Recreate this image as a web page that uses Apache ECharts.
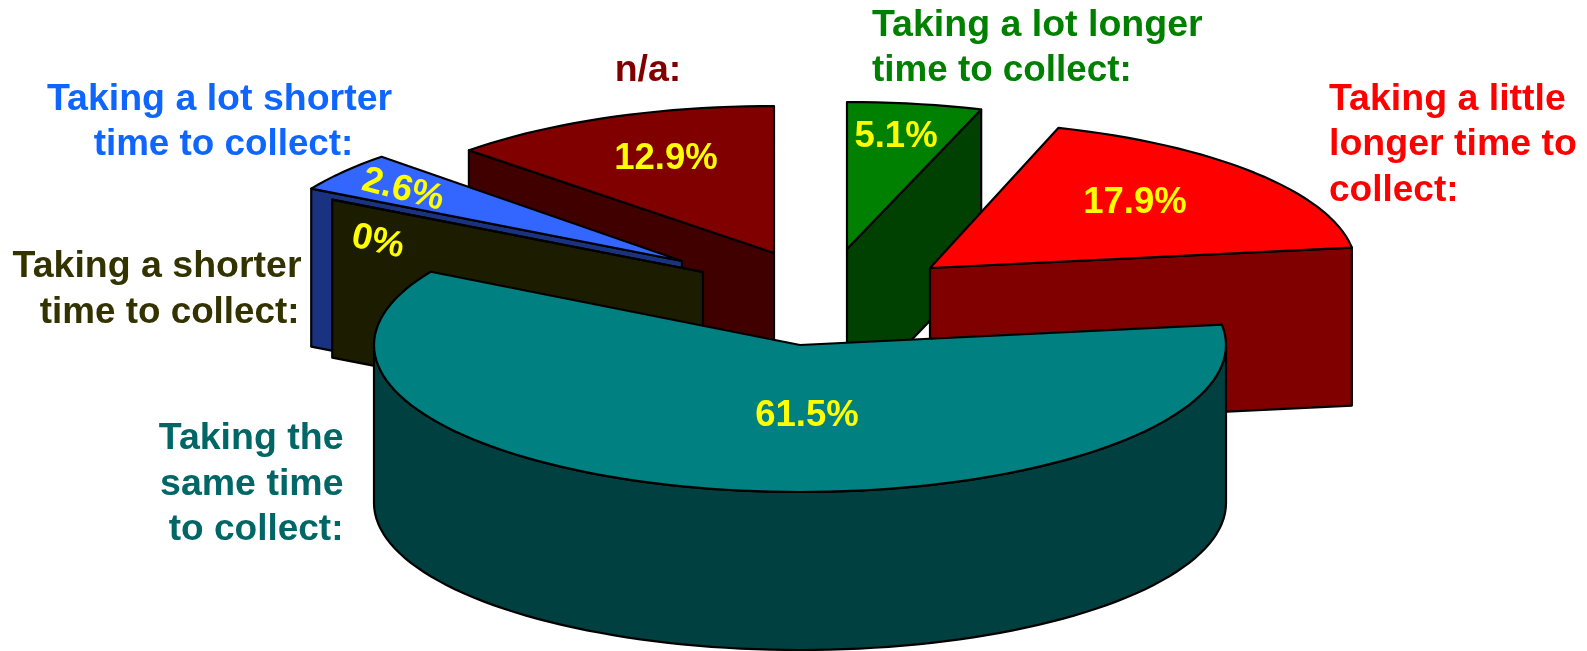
<!DOCTYPE html>
<html><head><meta charset="utf-8">
<style>html,body{margin:0;padding:0;background:#fff}#c{width:1587px;height:651px}</style>
<script src="https://cdn.jsdelivr.net/npm/echarts@6/dist/echarts.min.js"></script>
</head><body><div id="c"></div>
<script>
// data, clockwise on screen starting at the large slice
const categories = ['Taking the same time to collect:','Taking a shorter time to collect:','Taking a lot shorter time to collect:','n/a:','Taking a lot longer time to collect:','Taking a little longer time to collect:'];
const values = [61.5, 0, 2.6, 12.9, 5.1, 17.9];
const valueLabels = ['61.5%','0%','2.6%','12.9%','5.1%','17.9%'];

// styles
const topColors  = ['#008080','#333300','#3366ff','#800000','#008000','#ff0000'];
const wallColors = ['#004040','#1c1c00','#1a3380','#400000','#004000','#800000'];
const labelColors= ['#006666','#333300','#0f66ff','#800000','#008000','#ff0000'];

// layout of the projected pie
const center = [827, 300], rx = 426, ry = 147, depth = 158, startDeg = -7.5;
const explodeX = [-27, -124, -145, -53, 20, 103];
const explodeY = [45, -28, -39, -47, -51, -32];
const turnDeg  = [-0.5, -4.4, -4.4, 1, 0.3, -0.5];
const widenDeg = [-3.5, 0, 6.3, -0.7, 0, 0];
const drawOrder = [3, 2, 1, 4, 5, 0];

const total = values.reduce((a, b) => a + b, 0);
const spans = []; let acc = startDeg;
values.forEach((v, i) => { const a = acc, b = acc + v / total * 360; spans.push([a + turnDeg[i], b + turnDeg[i] + widenDeg[i]]); acc = b; });
const rad = d => d * Math.PI / 180;

function renderItem(params, api) {
  const i = api.value(0), s = spans[i], a = s[0], b = s[1];
  const cx = center[0] + explodeX[i], cy = center[1] + explodeY[i];
  const on = (t, h) => [cx + rx * Math.cos(rad(t)), cy + ry * Math.sin(rad(t)) + (h || 0)];
  const line = { stroke: '#000', lineWidth: 2.2, lineJoin: 'round' };
  const kids = [];
  const face = t => kids.push({ type: 'polygon', shape: { points: [[cx, cy], on(t), on(t, depth), [cx, cy + depth]] }, style: Object.assign({ fill: wallColors[i] }, line) });
  if (Math.cos(rad(a)) < -0.02) face(a);
  if (Math.cos(rad(b)) > 0.02) face(b);
  const lo = Math.max(a, 0), hi = Math.min(b, 180);
  if (hi > lo) {
    const up = [], down = [];
    for (let t = lo; t < hi; t += 2) { up.push(on(t)); down.unshift(on(t, depth)); }
    up.push(on(hi)); down.unshift(on(hi, depth));
    kids.push({ type: 'polygon', shape: { points: up.concat(down) }, style: Object.assign({ fill: wallColors[i] }, line) });
  }
  const top = [[cx, cy]];
  for (let t = a; t < b; t += 2) top.push(on(t));
  top.push(on(b));
  kids.push({ type: 'polygon', shape: { points: top }, style: Object.assign({ fill: topColors[i] }, line) });
  return { type: 'group', children: kids };
}

const family = '"Liberation Sans", Arial, sans-serif';
// label lines: [slice, text, x, y, align, size]
const catLines = [
  [0, 'Taking the', 343.5, 439, 'right', 37.5],
  [0, 'same time', 343.5, 484.5, 'right', 37.5],
  [0, 'to collect:', 343.5, 530, 'right', 37],
  [1, 'Taking a shorter', 301.5, 267, 'right', 37.5],
  [1, 'time to collect:', 299.5, 312.5, 'right', 36.8],
  [2, 'Taking a lot shorter', 219.5, 99.5, 'center', 37.5],
  [2, 'time to collect:', 223.5, 145, 'center', 36.8],
  [3, 'n/a:', 648, 71, 'center', 37.5],
  [4, 'Taking a lot longer', 872, 25.5, 'left', 37.5],
  [4, 'time to collect:', 872, 70.5, 'left', 36.8],
  [5, 'Taking a little', 1329, 99.5, 'left', 37.5],
  [5, 'longer time to', 1329, 145, 'left', 37.5],
  [5, 'collect:', 1329, 190.5, 'left', 37]
];
const valuePlace = [[807,416,0],[378,242,-0.22],[403,190,-0.25],[666,159,0],[896,137,0],[1135,203,0]];

const graphic = [];
catLines.forEach(p => {
  graphic.push({ type: 'text', x: p[2], y: p[3], z: 10, silent: true, style: { text: p[1], font: 'bold ' + p[5] + 'px ' + family, fill: labelColors[p[0]], textAlign: p[4], textVerticalAlign: 'middle' } });
});
valueLabels.forEach((t, i) => {
  const q = valuePlace[i];
  graphic.push({ type: 'text', x: q[0], y: q[1], rotation: q[2], z: 10, silent: true, style: { text: t, font: 'bold 36.5px ' + family, fill: '#ffff00', textAlign: 'center', textVerticalAlign: 'middle' } });
});

const chart = echarts.init(document.getElementById('c'), null, { renderer: 'canvas' });
chart.setOption({
  animation: false,
  backgroundColor: '#ffffff',
  graphic: graphic,
  series: [{ type: 'custom', coordinateSystem: 'none', silent: true, clip: false, renderItem: renderItem,
    data: drawOrder.map(i => [i, values[i]]) }]
});
</script></body></html>
